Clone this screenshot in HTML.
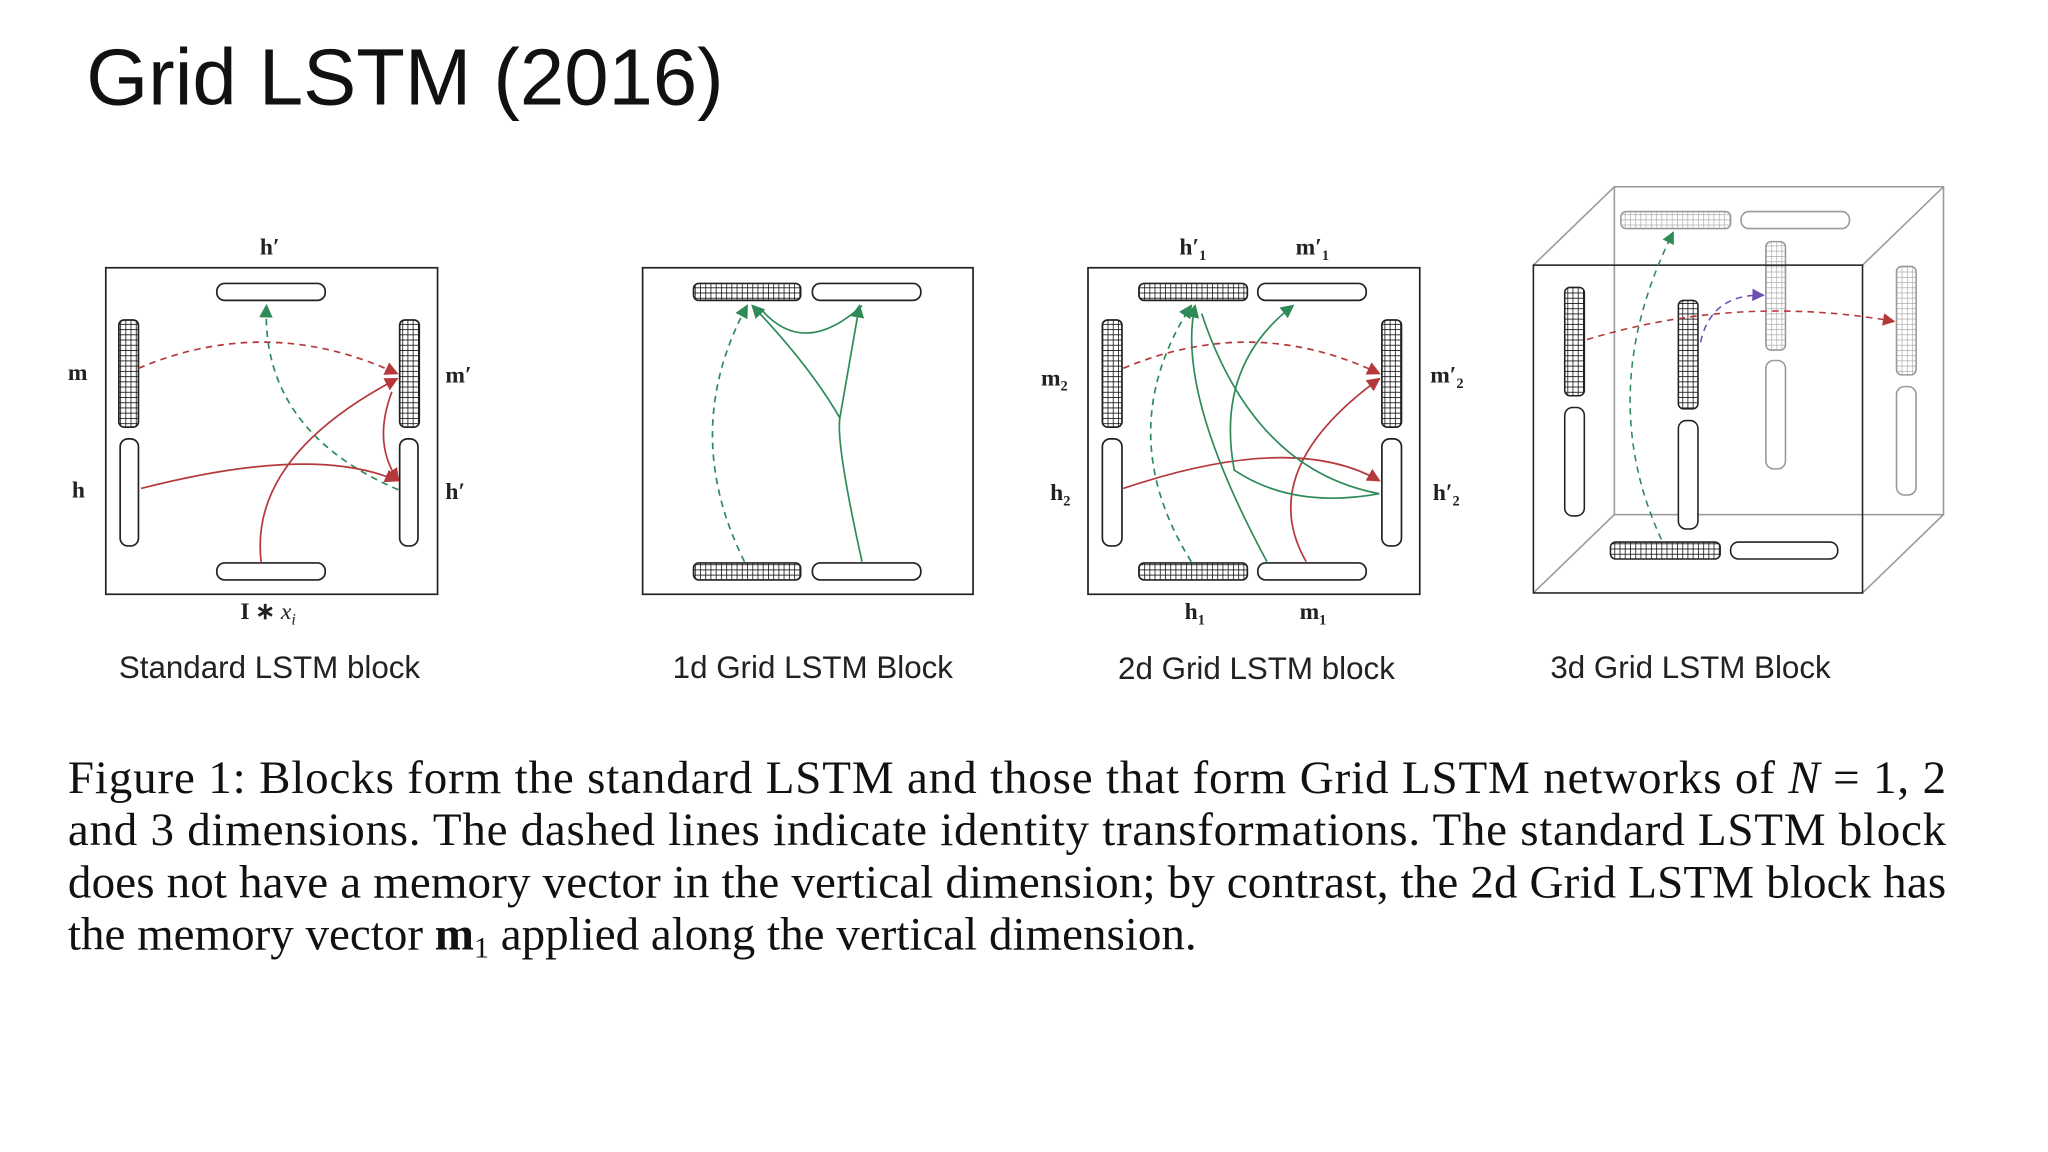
<!DOCTYPE html>
<html><head><meta charset="utf-8"><style>
html,body{margin:0;padding:0;background:#fff;width:2048px;height:1152px;overflow:hidden}
svg{display:block}
.sans{font-family:"Liberation Sans",sans-serif}
.serif{font-family:"Liberation Serif",serif}
</style></head><body>
<svg width="2048" height="1152" viewBox="0 0 1568 882">
<defs>
<pattern id="hatch" width="4" height="4" patternUnits="userSpaceOnUse">
<rect width="4" height="4" fill="#fff"/><path d="M0 0V4M0 0H4" stroke="#111" stroke-width="1.2"/>
</pattern>
<pattern id="hatchg" width="4" height="4" patternUnits="userSpaceOnUse">
<rect width="4" height="4" fill="#fff"/><path d="M0 0V4M0 0H4" stroke="#aaa" stroke-width="1"/>
</pattern>
<marker id="ar" markerWidth="8" markerHeight="8" refX="7" refY="4" orient="auto"><path d="M0 0L8 4L0 8z" fill="#b5393b"/></marker>
<marker id="ag" markerWidth="8" markerHeight="8" refX="7" refY="4" orient="auto"><path d="M0 0L8 4L0 8z" fill="#2e8b57"/></marker>
<marker id="ap" markerWidth="8" markerHeight="8" refX="7" refY="4" orient="auto"><path d="M0 0L8 4L0 8z" fill="#6a4fb0"/></marker>
</defs>
<text x="66" y="80" class="sans" font-size="61" fill="#111">Grid LSTM (2016)</text>

<g fill="none" stroke="#222" stroke-width="1.3">
<rect x="81" y="205" width="254" height="250"/>
<rect x="166" y="217" width="83" height="13" rx="6" fill="#fff"/>
<rect x="166" y="431" width="83" height="13" rx="6" fill="#fff"/>
<rect x="91" y="245" width="15" height="82" rx="4" fill="url(#hatch)"/>
<rect x="92" y="336" width="14" height="82" rx="6" fill="#fff"/>
<rect x="306" y="245" width="15" height="82" rx="4" fill="url(#hatch)"/>
<rect x="306" y="336" width="14" height="82" rx="6" fill="#fff"/>
<path d="M106 282Q205 240 304 286" stroke="#b5393b" stroke-dasharray="5 4" marker-end="url(#ar)"/>
<path d="M305 375Q200 330 204 234" stroke="#2e8b57" stroke-dasharray="5 4" marker-end="url(#ag)"/>
<path d="M108 374Q240 340 304 368" stroke="#b5393b" marker-end="url(#ar)"/>
<path d="M200 431Q190 350 304 290" stroke="#b5393b" marker-end="url(#ar)"/>
<path d="M300 300Q285 340 305 368" stroke="#b5393b" marker-end="url(#ar)"/>
</g>
<g class="serif" font-size="18" font-weight="bold" fill="#222">
<text x="199" y="195">h′</text><text x="52" y="291">m</text><text x="341" y="293">m′</text>
<text x="55" y="381">h</text><text x="341" y="382">h′</text><text x="184" y="474">I ∗ <tspan font-style="italic" font-weight="normal">x<tspan font-size="12" dy="4">i</tspan></tspan></text>
</g>
<text x="91" y="519" class="sans" font-size="24" fill="#222">Standard LSTM block</text>

<g fill="none" stroke="#222" stroke-width="1.3">
<rect x="492" y="205" width="253" height="250"/>
<rect x="531" y="217" width="82" height="13" rx="4" fill="url(#hatch)"/>
<rect x="622" y="217" width="83" height="13" rx="6" fill="#fff"/>
<rect x="531" y="431" width="82" height="13" rx="4" fill="url(#hatch)"/>
<rect x="622" y="431" width="83" height="13" rx="6" fill="#fff"/>
<path d="M570 430Q520 330 572 234" stroke="#2e8b57" stroke-dasharray="5 4" marker-end="url(#ag)"/>
<path d="M660 430Q640 340 643 320Q620 280 576 234" stroke="#2e8b57" marker-end="url(#ag)"/>
<path d="M643 320Q650 280 658 234" stroke="#2e8b57" marker-end="url(#ag)"/>
<path d="M582 236Q615 275 660 234" stroke="#2e8b57"/>
</g>
<text x="515" y="519" class="sans" font-size="24" fill="#222">1d Grid LSTM Block</text>

<g fill="none" stroke="#222" stroke-width="1.3">
<rect x="833" y="205" width="254" height="250"/>
<rect x="872" y="217" width="83" height="13" rx="4" fill="url(#hatch)"/>
<rect x="963" y="217" width="83" height="13" rx="6" fill="#fff"/>
<rect x="872" y="431" width="83" height="13" rx="4" fill="url(#hatch)"/>
<rect x="963" y="431" width="83" height="13" rx="6" fill="#fff"/>
<rect x="844" y="245" width="15" height="82" rx="4" fill="url(#hatch)"/>
<rect x="844" y="336" width="15" height="82" rx="6" fill="#fff"/>
<rect x="1058" y="245" width="15" height="82" rx="4" fill="url(#hatch)"/>
<rect x="1058" y="336" width="15" height="82" rx="6" fill="#fff"/>
<path d="M860 282Q960 240 1056 286" stroke="#b5393b" stroke-dasharray="5 4" marker-end="url(#ar)"/>
<path d="M912 430Q850 330 912 234" stroke="#2e8b57" stroke-dasharray="5 4" marker-end="url(#ag)"/>
<path d="M860 374Q990 330 1056 368" stroke="#b5393b" marker-end="url(#ar)"/>
<path d="M1000 430Q960 360 1056 290" stroke="#b5393b" marker-end="url(#ar)"/>
<path d="M970 430Q900 300 915 234" stroke="#2e8b57" marker-end="url(#ag)"/>
<path d="M1056 378Q990 390 945 360Q930 280 990 234" stroke="#2e8b57" marker-end="url(#ag)"/>
<path d="M1056 378Q960 360 920 240" stroke="#2e8b57"/>
</g>
<g class="serif" font-size="18" font-weight="bold" fill="#222">
<text x="903" y="195">h′<tspan font-size="11" dy="4">1</tspan></text><text x="992" y="195">m′<tspan font-size="11" dy="4">1</tspan></text>
<text x="797" y="295">m<tspan font-size="11" dy="4">2</tspan></text><text x="1095" y="293">m′<tspan font-size="11" dy="4">2</tspan></text>
<text x="804" y="383">h<tspan font-size="11" dy="4">2</tspan></text><text x="1097" y="383">h′<tspan font-size="11" dy="4">2</tspan></text>
<text x="907" y="474">h<tspan font-size="11" dy="4">1</tspan></text><text x="995" y="474">m<tspan font-size="11" dy="4">1</tspan></text>
</g>
<text x="856" y="520" class="sans" font-size="24" fill="#222">2d Grid LSTM block</text>

<g fill="none" stroke-width="1.2">
<g stroke="#999">
<rect x="1236" y="143" width="252" height="251"/>
<path d="M1174 203L1236 143M1426 203L1488 143M1174 454L1236 394M1426 454L1488 394"/>
<rect x="1241" y="162" width="84" height="13" rx="4" fill="url(#hatchg)"/>
<rect x="1333" y="162" width="83" height="13" rx="6" fill="#fff"/>
<rect x="1352" y="185" width="15" height="83" rx="4" fill="url(#hatchg)"/>
<rect x="1352" y="276" width="15" height="83" rx="6" fill="none"/>
<rect x="1452" y="204" width="15" height="83" rx="4" fill="url(#hatchg)"/>
<rect x="1452" y="296" width="15" height="83" rx="6" fill="none"/>
</g>
<g stroke="#222">
<rect x="1174" y="203" width="252" height="251"/>
<rect x="1198" y="220" width="15" height="83" rx="4" fill="url(#hatch)"/>
<rect x="1198" y="312" width="15" height="83" rx="6" fill="#fff"/>
<rect x="1285" y="230" width="15" height="83" rx="4" fill="url(#hatch)"/>
<rect x="1285" y="322" width="15" height="83" rx="6" fill="#fff"/>
<rect x="1233" y="415" width="84" height="13" rx="4" fill="url(#hatch)"/>
<rect x="1325" y="415" width="82" height="13" rx="6" fill="#fff"/>
</g>
<path d="M1215 260Q1330 225 1450 246" stroke="#b5393b" stroke-dasharray="5 4" marker-end="url(#ar)"/>
<path d="M1272 413Q1220 300 1281 178" stroke="#2e8b57" stroke-dasharray="5 4" marker-end="url(#ag)"/>
<path d="M1302 262Q1310 225 1350 226" stroke="#6a4fb0" stroke-dasharray="5 4" marker-end="url(#ap)"/>
</g>
<text x="1187" y="519" class="sans" font-size="24" fill="#222">3d Grid LSTM Block</text>

<g class="serif" font-size="36" fill="#111">
<text x="52" y="607" textLength="1438" lengthAdjust="spacing">Figure 1:  Blocks form the standard LSTM and those that form Grid LSTM networks of <tspan font-style="italic">N</tspan> = 1, 2</text>
<text x="52" y="647" textLength="1438" lengthAdjust="spacing">and 3 dimensions.  The dashed lines indicate identity transformations.  The standard LSTM block</text>
<text x="52" y="687" textLength="1438" lengthAdjust="spacing">does not have a memory vector in the vertical dimension; by contrast, the 2d Grid LSTM block has</text>
<text x="52" y="727">the memory vector <tspan font-weight="bold">m</tspan><tspan font-size="23" dy="6">1</tspan><tspan dy="-6"> applied along the vertical dimension.</tspan></text>
</g>
</svg>
</body></html>
